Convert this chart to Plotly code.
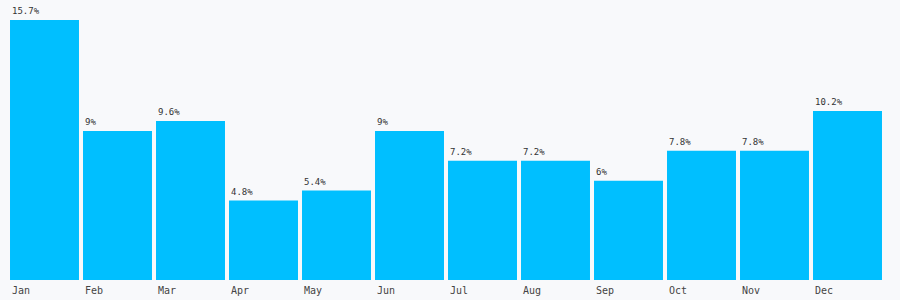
import plotly.graph_objects as go

months = ["Jan", "Feb", "Mar", "Apr", "May", "Jun", "Jul", "Aug", "Sep", "Oct", "Nov", "Dec"]
values = [15.7, 9, 9.6, 4.8, 5.4, 9, 7.2, 7.2, 6, 7.8, 7.8, 10.2]
labels = ["15.7%", "9%", "9.6%", "4.8%", "5.4%", "9%", "7.2%", "7.2%", "6%", "7.8%", "7.8%", "10.2%"]

xs = list(range(len(months)))
gap = 0.055

fig = go.Figure(go.Bar(x=xs, y=values, marker=dict(color="#00bfff", line=dict(width=0)),
                       hoverinfo="skip"))

ann = []
for i, (v, t, m) in enumerate(zip(values, labels, months)):
    ann.append(dict(x=i - 0.5 + gap / 2, y=v, xref="x", yref="y", text=t, showarrow=False,
                    xanchor="left", yanchor="bottom", xshift=0, yshift=2,
                    font=dict(family="DejaVu Sans Mono", size=9, color="#333")))
    ann.append(dict(x=i - 0.5 + gap / 2, y=0, xref="x", yref="paper", text=m, showarrow=False,
                    xanchor="left", yanchor="top", xshift=0, yshift=-3,
                    font=dict(family="DejaVu Sans Mono", size=10, color="#444")))

fig.update_layout(
    width=900, height=300,
    margin=dict(l=8, r=16, t=20, b=20),
    paper_bgcolor="#f8f9fb", plot_bgcolor="#f8f9fb",
    bargap=gap, showlegend=False,
    xaxis=dict(range=[-0.5, 11.5], visible=False),
    yaxis=dict(range=[0, 15.7], visible=False),
    annotations=ann,
)
fig.write_html("out.html")
